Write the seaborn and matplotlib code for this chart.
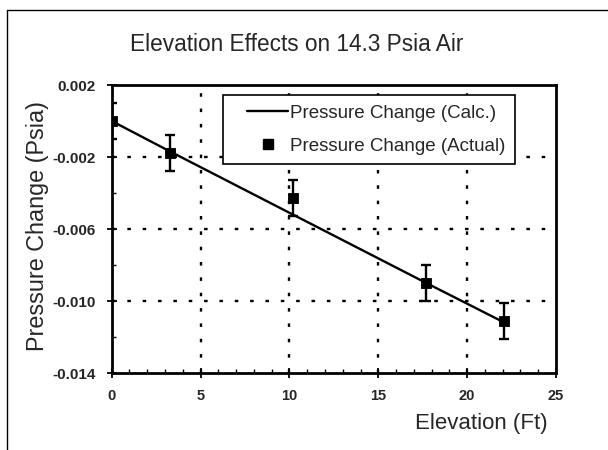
import numpy as np
import pandas as pd
import matplotlib
matplotlib.use("Agg")
import matplotlib.pyplot as plt
from matplotlib.lines import Line2D
from matplotlib.legend_handler import HandlerLine2D
from matplotlib.ticker import MultipleLocator, FixedLocator
import seaborn as sns

# values
elevation = [0.0, 3.3, 10.2, 17.7, 22.1]
pressure_actual = [0.0, -0.0018, -0.0043, -0.0090, -0.0111]
pressure_error = [0.001, 0.001, 0.001, 0.001, 0.001]
pressure_calc = [0.0, -0.0017, -0.0052, -0.0090, -0.0112]
y_ticks = [0.002, -0.002, -0.006, -0.010, -0.014]
y_tick_labels = ["0.002", "-0.002", "-0.006", "-0.010", "-0.014"]

df = pd.DataFrame({"elevation": elevation, "actual": pressure_actual,
                   "calc": pressure_calc, "err": pressure_error})


class ShiftedHandler(HandlerLine2D):
    # legend handle drawn in the right part of the handle box, like the scan
    def create_artists(self, legend, orig_handle, xdescent, ydescent,
                       width, height, fontsize, trans):
        shift = 0.27 * width
        return super().create_artists(legend, orig_handle, xdescent - shift,
                                      ydescent, width - shift, height,
                                      fontsize, trans)


sns.set_theme(style="white")
plt.rcParams["font.family"] = ["Liberation Sans", "DejaVu Sans"]

fig = plt.figure(figsize=(6.08, 4.5), dpi=100)
ax = fig.add_axes([0.1837, 0.1711, 0.7308, 0.64])

dots = (0, (1.5, 5))
for x in [5, 10, 15, 20]:
    ax.axvline(x, color="black", lw=1.7, ls=dots, zorder=0)
for y in [-0.002, -0.006, -0.010]:
    ax.axhline(y, color="black", lw=1.7, ls=dots, zorder=0)

sns.lineplot(data=df, x="elevation", y="calc", ax=ax, color="black", lw=1.7,
             legend=False)
ax.errorbar(df["elevation"], df["actual"], yerr=df["err"], fmt="none",
            ecolor="black", elinewidth=1.7, capsize=3.5, capthick=1.7)
sns.scatterplot(data=df, x="elevation", y="actual", ax=ax, color="black",
                marker="s", s=60, edgecolor="black", zorder=5, legend=False)

ax.set_xlim(0, 25)
ax.set_ylim(-0.014, 0.002)
ax.xaxis.set_major_locator(MultipleLocator(5))
ax.xaxis.set_minor_locator(MultipleLocator(1))
ax.yaxis.set_major_locator(FixedLocator(y_ticks))
ax.set_yticklabels(y_tick_labels)
ax.yaxis.set_minor_locator(MultipleLocator(0.002))
ax.tick_params(axis="both", which="major", direction="inout", length=7, width=1.3,
               color="black", pad=8)
ax.tick_params(axis="x", which="major", labelsize=10.5)
ax.tick_params(axis="y", which="major", labelsize=11)
ax.tick_params(axis="both", which="minor", direction="in", length=3, width=1,
               color="black")
ax.tick_params(axis="x", which="both", bottom=True)
ax.tick_params(axis="y", which="both", left=True)
for lab in ax.get_xticklabels() + ax.get_yticklabels():
    lab.set_fontweight("bold")

for s in ax.spines.values():
    s.set_color("black")
    s.set_linewidth(2)

ax.set_xlabel("")
ax.set_ylabel("")
fig.text(0.488, 0.902, "Elevation Effects on 14.3 Psia Air", ha="center",
         va="center", fontsize=16.3)
fig.text(0.9, 0.06, "Elevation (Ft)", ha="right", va="center", fontsize=16)
fig.text(0.0625, 0.498, "Pressure Change (Psia)", ha="center", va="center",
         rotation=90, fontsize=16.8)

calc_handle = Line2D([], [], color="black", lw=1.7)
actual_handle = Line2D([], [], color="black", marker="s", markersize=7, ls="none")
leg = ax.legend([calc_handle, actual_handle],
                ["Pressure Change (Calc.)", "Pressure Change (Actual)"],
                handler_map={Line2D: ShiftedHandler(numpoints=1)},
                loc="upper left", bbox_to_anchor=(0.25, 0.965), fontsize=13.5,
                frameon=True, fancybox=False, edgecolor="black",
                handlelength=3.0, handletextpad=0.1, borderpad=0.5,
                labelspacing=0.85, borderaxespad=0)
leg.get_frame().set_linewidth(1.2)
leg.get_frame().set_facecolor("white")
leg.get_frame().set_alpha(1)

# outer chart border (left and top edges visible in the scan)
fig.add_artist(Line2D([7 / 608, 7 / 608], [0, 1 - 10 / 450], color="black", lw=1))
fig.add_artist(Line2D([7 / 608, 1], [1 - 10 / 450, 1 - 10 / 450], color="black", lw=1))

fig.savefig("out.png", dpi=100)
